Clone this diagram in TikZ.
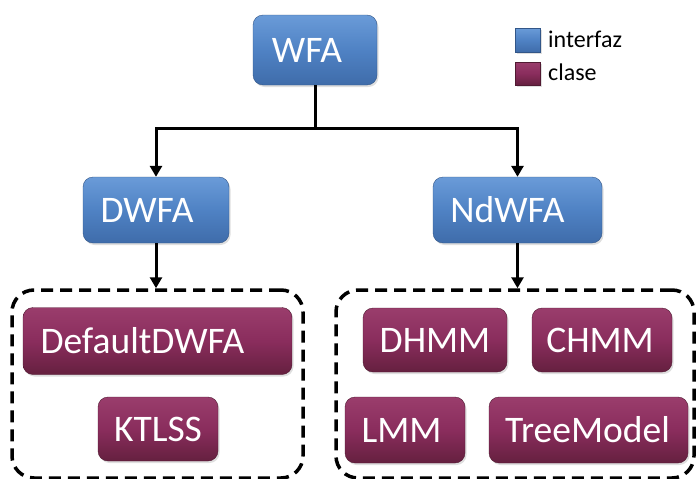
\documentclass[tikz,border=0pt]{standalone}
\usepackage{fontspec}
\setmainfont{Carlito}
\usetikzlibrary{arrows.meta,shadows}
\definecolor{bluetop}{HTML}{6A9BD8}
\definecolor{bluemid}{HTML}{4F82C4}
\definecolor{bluebot}{HTML}{3F6CAA}
\definecolor{purtop}{HTML}{9A3D6C}
\definecolor{purmid}{HTML}{8A2D5D}
\definecolor{purbot}{HTML}{65203F}
\tikzset{
  ifc/.style={rounded corners=10pt, top color=bluetop, bottom color=bluebot, middle color=bluemid,
     draw=bluebot!80!black, line width=0.4pt, text=white, font=\fontsize{37.5}{40}\selectfont,
     drop shadow={opacity=0.25, shadow xshift=1.5pt, shadow yshift=-2pt}, inner sep=0pt},
  cls/.style={rounded corners=10pt, top color=purtop, bottom color=purbot, middle color=purmid,
     draw=purbot!80!black, line width=0.4pt, text=white, font=\fontsize{37.5}{40}\selectfont,
     drop shadow={opacity=0.25, shadow xshift=1.5pt, shadow yshift=-2pt}, inner sep=0pt},
  grp/.style={draw=black, line width=3.5pt, dash pattern=on 12pt off 7pt, rounded corners=22pt},
  conn/.style={draw=black, line width=3pt},
  arr/.style={conn, -{Triangle[length=11pt,width=12pt]}},
  leg/.style={font=\fontsize{24}{26}\selectfont, anchor=west, inner sep=0pt}
}
\begin{document}
\begin{tikzpicture}[x=1pt,y=-1pt]
\useasboundingbox (0,0) rectangle (696,479);
% top
\node[ifc, minimum width=124, minimum height=70] (wfa) at (315,50) {WFA\hspace*{16pt}};
\node[ifc, minimum width=146, minimum height=66] (dwfa) at (156,210) {DWFA\hspace*{18pt}};
\node[ifc, minimum width=169, minimum height=66] (ndwfa) at (517.5,210) {NdWFA\hspace*{20pt}};
\coordinate (bar) at (315,128);
\draw[conn] (wfa.south) -- (bar);
\draw[arr] (bar) -| (dwfa.north);
\draw[arr] (bar) -| (ndwfa.north);
% groups
\node[grp, minimum width=291, minimum height=188] (lgrp) at (157.5,384) {};
\node[grp, minimum width=358, minimum height=188] (rgrp) at (515,384) {};
\draw[arr] (dwfa.south) -- (dwfa.south |- lgrp.north);
\draw[arr] (ndwfa.south) -- (ndwfa.south |- rgrp.north);
% classes
\node[cls, minimum width=269, minimum height=67] (ddwfa) at (157.5,341) {DefaultDWFA\hspace*{30pt}};
\node[cls, minimum width=120, minimum height=64] (ktlss) at (158,429) {KTLSS};
\node[cls, minimum width=144, minimum height=64] (dhmm) at (435,340) {DHMM};
\node[cls, minimum width=140, minimum height=64] (chmm) at (602,340) {CHMM\hspace*{4pt}};
\node[cls, minimum width=120, minimum height=66] (lmm) at (405,430) {LMM\hspace*{7pt}};
\node[cls, minimum width=199, minimum height=66] (tree) at (588.5,430) {TreeModel\hspace*{2pt}};
% legend
\node[ifc, rounded corners=0pt, minimum width=25, minimum height=24] (legi) at (527.5,40) {};
\node[cls, rounded corners=0pt, minimum width=25, minimum height=23] (legc) at (527.5,73.5) {};
\node[leg] (legit) at (548,39) {interfaz};
\node[leg] (legct) at (548,72.5) {clase};
\end{tikzpicture}
\end{document}
